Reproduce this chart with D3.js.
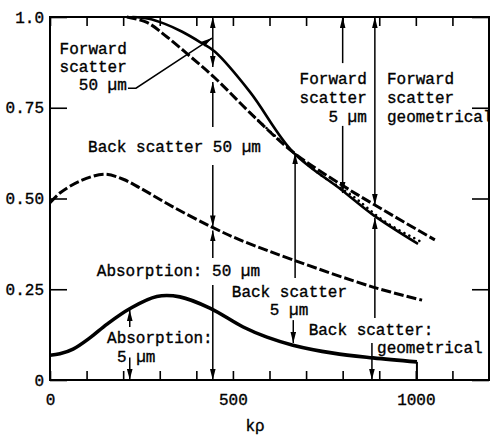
<!DOCTYPE html>
<html>
<head>
<meta charset="utf-8">
<script src="https://cdn.jsdelivr.net/npm/d3@7"></script>
<style>
  body { margin: 0; background: #fff; }
  svg text { font-family: "Liberation Mono", "DejaVu Sans Mono", monospace; font-size: 16px;
    fill: #000; stroke: #000; stroke-width: 0.35px; }
</style>
</head>
<body>
<svg id="chart" width="490" height="436"></svg>
<script>
// ---- axis ticks -------------------------------------------------------
const kpTickValues = [0, 100, 200, 300, 400, 500, 600, 700, 800, 900, 1000, 1100, 1200];
const kpTickLabels = { 0: "0", 500: "500", 1000: "1000" };
const yTickValues = [0, 0.25, 0.5, 0.75, 1.0];
const yTickLabels = ["0", "0.25", "0.50", "0.75", "1.0"];

// ---- curves: [kρ, fraction] ------------------------------------------
// 5 µm: absorption + back scatter (solid, upper)
const upper5 = [[225, 1.0], [270, 0.995], [314, 0.981], [360, 0.960], [410, 0.931], [451, 0.904],
  [547, 0.793], [664, 0.628], [798, 0.523], [883, 0.455], [1006, 0.375]];
// 50 µm: absorption + back scatter (dashed, upper)
const upper50 = [[210, 1.0], [265, 0.985], [320, 0.945], [385, 0.890], [451, 0.832], [547, 0.736],
  [664, 0.628], [798, 0.537], [888, 0.482], [1052, 0.386]];
// geometrical: back scatter (dotted)
const upperGeom = [[547, 0.736], [664, 0.628], [740, 0.565], [826, 0.508], [916, 0.436], [1020, 0.378]];
// 50 µm: absorption (dashed, middle)
const abs50 = [[0, 0.488], [27, 0.515], [82, 0.548], [150, 0.567], [200, 0.553], [246, 0.529],
  [336, 0.477], [443, 0.421], [519, 0.386], [664, 0.331], [883, 0.256], [1017, 0.220]];
// 5 µm: absorption (solid, lower)
const abs5 = [[0, 0.068], [27, 0.072], [63, 0.085], [109, 0.116], [156, 0.154], [219, 0.197],
  [292, 0.230], [355, 0.229], [437, 0.198], [528, 0.146], [593, 0.118], [664, 0.096],
  [774, 0.074], [883, 0.061], [1003, 0.050]];

// ---- annotation arrows: vertical segments at kρ from v0 to v1 ----------
const arrows = [
  { kp: 445, v0: 0.862, v1: 1.0, start: true, end: true },
  { kp: 445, v0: 0.697, v1: 0.821, end: true },
  { kp: 445, v0: 0.592, v1: 0.423, end: true },
  { kp: 445, v0: 0.336, v1: 0.412, end: true },
  { kp: 445, v0: 0.262, v1: 0.0, end: true },
  { kp: 800, v0: 0.873, v1: 1.0, end: true },
  { kp: 800, v0: 0.700, v1: 0.515, end: true },
  { kp: 888, v0: 0.482, v1: 1.0, start: true, end: true },
  { kp: 888, v0: 0.171, v1: 0.446, end: true },
  { kp: 670, v0: 0.281, v1: 0.625, end: true },
  { kp: 665, v0: 0.165, v1: 0.102, end: true },
  { kp: 880, v0: 0.102, v1: 0.0, end: true },
  { kp: 218, v0: 0.146, v1: 0.193, end: true },
  { kp: 218, v0: 0.062, v1: 0.0, end: true }
];
const leader50 = [[213, 0.804], [235, 0.804], [443, 0.942]];

// ---- labels: [kρ, fraction, anchor, text] ------------------------------
const labels = [
  [210, 0.898, "end", "Forward"], [210, 0.848, "end", "scatter"], [210, 0.799, "end", "50 µm"],
  [104, 0.628, "start", "Back scatter 50 µm"],
  [866, 0.815, "end", "Forward"], [866, 0.763, "end", "scatter"], [866, 0.711, "end", "5 µm"],
  [921, 0.815, "start", "Forward"], [921, 0.763, "start", "scatter"], [921, 0.711, "start", "geometrical"],
  [128, 0.287, "start", "Absorption: 50 µm"],
  [497, 0.229, "start", "Back scatter"], [601, 0.179, "start", "5 µm"],
  [156, 0.102, "start", "Absorption:"], [183, 0.050, "start", "5 µm"],
  [707, 0.124, "start", "Back scatter:"], [894, 0.075, "start", "geometrical"]
];

const svg = d3.select("#chart");
const x = d3.scaleLinear().domain([0, 1200]).range([50, 489]);
const y = d3.scaleLinear().domain([0, 1]).range([380, 17]);

// arrowhead marker
svg.append("defs").append("marker")
  .attr("id", "head").attr("viewBox", "0 -3 11 6")
  .attr("refX", 11).attr("refY", 0)
  .attr("markerWidth", 11).attr("markerHeight", 6)
  .attr("markerUnits", "userSpaceOnUse")
  .attr("orient", "auto-start-reverse")
  .append("path").attr("d", "M0,-2.8L11,0L0,2.8Z").attr("fill", "#000");

// axes with inward ticks
const fmtKp = d => kpTickLabels[d] || "";
const gB = svg.append("g").attr("transform", `translate(0,${y(0)})`)
  .call(d3.axisBottom(x).tickValues(kpTickValues).tickSize(-9).tickPadding(14).tickFormat(fmtKp));
const gT = svg.append("g").attr("transform", `translate(0,${y(1)})`)
  .call(d3.axisTop(x).tickValues(kpTickValues).tickSize(-9).tickFormat(""));
const gL = svg.append("g").attr("transform", `translate(${x(0)},0)`)
  .call(d3.axisLeft(y).tickValues(yTickValues).tickSize(-17).tickPadding(6)
    .tickFormat((d, i) => yTickLabels[i]));
const gR = svg.append("g").attr("transform", `translate(${x(1200)},0)`)
  .call(d3.axisRight(y).tickValues(yTickValues).tickSize(-17).tickFormat(""));
[gB, gT, gL, gR].forEach(g => {
  g.attr("font-family", null).attr("font-size", null);
  g.select(".domain").remove();
  g.selectAll(".tick line").attr("stroke", "#000").attr("stroke-width", 1.6);
});

// frame
svg.append("rect").attr("x", x(0)).attr("y", y(1))
  .attr("width", x(1200) - x(0)).attr("height", y(0) - y(1))
  .attr("fill", "none").attr("stroke", "#000").attr("stroke-width", 2);

svg.append("text").attr("x", 255).attr("y", 431).attr("text-anchor", "middle").text("kρ");

// curves
const line = d3.line().x(d => x(d[0])).y(d => y(d[1])).curve(d3.curveCatmullRom.alpha(0.5));
const drawCurve = (data, width, dash) => svg.append("path").datum(data)
  .attr("d", line).attr("fill", "none").attr("stroke", "#000")
  .attr("stroke-width", width).attr("stroke-dasharray", dash)
  .attr("stroke-linejoin", "round");

drawCurve(upperGeom, 2.6, "0.1 5.5").attr("stroke-linecap", "round");
drawCurve(upper5, 2.6, null);
drawCurve(upper50, 3, "10 3");
drawCurve(abs50, 3, "10 3");
drawCurve(abs5, 3.6, null);
// 5 µm absorption curve ends with a drop to the axis
const last = abs5[abs5.length - 1];
svg.append("line").attr("x1", x(last[0])).attr("x2", x(last[0]))
  .attr("y1", y(last[1])).attr("y2", y(0)).attr("stroke", "#000").attr("stroke-width", 2);

// annotation arrows
svg.selectAll("line.arrow").data(arrows).join("line").attr("class", "arrow")
  .attr("x1", d => x(d.kp)).attr("x2", d => x(d.kp))
  .attr("y1", d => y(d.v0)).attr("y2", d => y(d.v1))
  .attr("stroke", "#000").attr("stroke-width", 1.5)
  .attr("marker-start", d => d.start ? "url(#head)" : null)
  .attr("marker-end", d => d.end ? "url(#head)" : null);

svg.append("path").datum(leader50)
  .attr("d", d3.line().x(d => x(d[0])).y(d => y(d[1])))
  .attr("fill", "none").attr("stroke", "#000").attr("stroke-width", 1.5)
  .attr("marker-end", "url(#head)");

// labels
svg.selectAll("text.lbl").data(labels).join("text").attr("class", "lbl")
  .attr("x", d => x(d[0])).attr("y", d => y(d[1]))
  .attr("text-anchor", d => d[2]).text(d => d[3]);
</script>
</body>
</html>
